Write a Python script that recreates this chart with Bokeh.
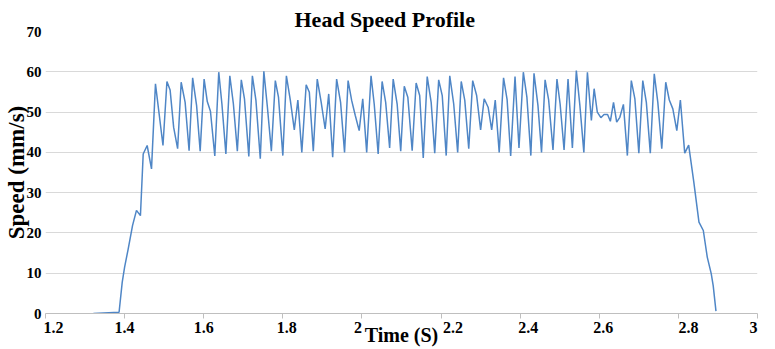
from bokeh.plotting import figure
from bokeh.models import Range1d, FixedTicker
from bokeh.embed import file_html
from bokeh.resources import INLINE

# ---- data ----
time_s = [
    1.321, 1.386, 1.394, 1.400, 1.409, 1.420, 1.430, 1.440, 1.447, 1.457,
    1.468, 1.478, 1.497, 1.507, 1.515, 1.524, 1.534, 1.543, 1.553, 1.563,
    1.572, 1.582, 1.591, 1.601, 1.609, 1.617, 1.628, 1.638, 1.646, 1.656,
    1.666, 1.675, 1.685, 1.695, 1.703, 1.714, 1.723, 1.732, 1.743, 1.752,
    1.761, 1.771, 1.781, 1.789, 1.800, 1.809, 1.819, 1.829, 1.838, 1.848,
    1.859, 1.867, 1.877, 1.887, 1.897, 1.907, 1.916, 1.926, 1.936, 1.946,
    1.956, 1.965, 1.974, 1.983, 1.993, 2.002, 2.012, 2.023, 2.031, 2.041,
    2.051, 2.060, 2.070, 2.079, 2.089, 2.098, 2.107, 2.116, 2.127, 2.137,
    2.146, 2.155, 2.165, 2.175, 2.184, 2.194, 2.203, 2.213, 2.222, 2.232,
    2.242, 2.251, 2.260, 2.270, 2.280, 2.290, 2.300, 2.309, 2.319, 2.328,
    2.337, 2.347, 2.358, 2.367, 2.376, 2.387, 2.397, 2.408, 2.417, 2.427,
    2.435, 2.445, 2.454, 2.463, 2.472, 2.483, 2.493, 2.501, 2.511, 2.521,
    2.532, 2.542, 2.551, 2.561, 2.570, 2.580, 2.587, 2.595, 2.604, 2.612,
    2.621, 2.628, 2.636, 2.644, 2.652, 2.661, 2.671, 2.681, 2.690, 2.700,
    2.710, 2.719, 2.729, 2.739, 2.748, 2.758, 2.768, 2.777, 2.786, 2.796,
    2.805, 2.816, 2.826, 2.839, 2.852, 2.863, 2.873, 2.883, 2.888, 2.895,
]
speed_mm_s = [
    0.0, 0.3, 7.8, 11.5, 16.0, 21.8, 25.6, 24.3, 39.6, 41.7,
    35.9, 57.0, 41.7, 57.6, 55.5, 46.2, 40.9, 57.4, 52.4, 40.4,
    58.5, 51.6, 40.3, 58.2, 52.6, 50.2, 39.1, 59.9, 52.0, 39.6,
    59.0, 52.0, 40.3, 58.0, 53.3, 39.0, 59.0, 52.9, 38.4, 60.1,
    51.2, 40.3, 57.8, 53.7, 39.2, 59.0, 52.9, 45.6, 53.0, 40.0,
    56.8, 54.9, 40.3, 58.2, 52.4, 45.8, 54.5, 38.8, 58.2, 52.4,
    40.0, 57.8, 52.9, 49.2, 45.4, 53.3, 40.0, 59.0, 52.0, 39.6,
    57.6, 52.4, 41.1, 58.2, 52.0, 40.3, 56.4, 53.7, 40.4, 57.2,
    54.1, 38.6, 58.8, 52.4, 39.8, 58.0, 54.1, 39.2, 59.0, 52.0,
    40.0, 57.6, 52.9, 40.9, 57.8, 54.1, 45.6, 53.3, 51.2, 45.6,
    53.0, 40.0, 58.5, 53.1, 39.1, 58.8, 41.1, 59.9, 53.7, 39.2,
    59.6, 51.6, 40.0, 58.0, 53.0, 40.6, 58.2, 52.0, 40.6, 58.2,
    41.1, 60.3, 51.6, 40.0, 59.9, 47.9, 55.8, 50.0, 48.6, 49.4,
    49.4, 47.7, 52.4, 47.5, 48.7, 51.9, 39.2, 57.8, 53.3, 39.8,
    57.8, 52.4, 39.8, 59.5, 52.4, 40.9, 57.4, 53.0, 50.8, 45.4,
    53.0, 39.8, 41.8, 32.6, 22.7, 20.6, 14.0, 9.9, 6.9, 0.6,
]

x_ticks = [1.2, 1.4, 1.6, 1.8, 2.0, 2.2, 2.4, 2.6, 2.8, 3.0]
x_tick_labels = ["1.2", "1.4", "1.6", "1.8", "2", "2.2", "2.4", "2.6", "2.8", "3"]
y_ticks = [0, 10, 20, 30, 40, 50, 60, 70]

TITLE = "Head Speed Profile"
X_LABEL = "Time (S)"
Y_LABEL = "Speed (mm/s)"

# the reference draws its tick labels slightly off-centre; no-break spaces
# reproduce those small shifts (number of pads before / after each label)
label_pads = [(4, 0), (0, 0), (0, 0), (2, 0), (0, 2), (6, 0), (4, 0), (2, 0), (5, 0), (0, 2)]
NBSP = "\u00a0"
shown_labels = [NBSP * a + t + NBSP * b for t, (a, b) in zip(x_tick_labels, label_pads)]

FONT = "'Liberation Serif'"

p = figure(width=775, height=349, output_backend="svg", toolbar_location=None,
           x_range=Range1d(1.2, 3.0), y_range=Range1d(0, 70),
           min_border_left=44, min_border_right=18,
           min_border_top=31, min_border_bottom=36)
p.outline_line_color = None
p.background_fill_color = "white"
p.border_fill_color = "white"

p.title.text = TITLE
p.title.align = "left"
p.title.offset = 249
p.title.standoff = 0
p.title.text_font = FONT
p.title.text_font_size = "22px"
p.title.text_font_style = "bold"
p.title.text_color = "black"

# y axis
ya = p.yaxis[0]
ya.ticker = FixedTicker(ticks=y_ticks)
ya.axis_line_color = None
ya.major_tick_line_color = None
ya.major_tick_out = 0
ya.major_tick_in = 0
ya.minor_tick_line_color = None
ya.minor_tick_out = 0
ya.minor_tick_in = 0
ya.major_label_standoff = 4
ya.major_label_text_font = FONT
ya.major_label_text_font_size = "15px"
ya.major_label_text_font_style = "bold"
ya.major_label_text_color = "black"
ya.axis_label = Y_LABEL
ya.axis_label_standoff = -5
ya.axis_label_text_font = FONT
ya.axis_label_text_font_size = "23px"
ya.axis_label_text_font_style = "bold"
ya.axis_label_text_color = "black"

# x axis
xa = p.xaxis[0]
xa.ticker = FixedTicker(ticks=x_ticks)
xa.major_label_overrides = dict(zip(x_ticks, shown_labels))
xa.axis_line_color = "#bfbfbf"
xa.major_tick_line_color = "#bfbfbf"
xa.major_tick_out = 5
xa.major_tick_in = 0
xa.minor_tick_line_color = None
xa.major_label_standoff = 0
xa.major_label_text_font = FONT
xa.major_label_text_font_size = "16px"
xa.major_label_text_font_style = "bold"
xa.major_label_text_color = "black"
xa.axis_label = X_LABEL
xa.axis_label_standoff = -15
xa.axis_label_text_font = FONT
xa.axis_label_text_font_size = "20px"
xa.axis_label_text_font_style = "bold"
xa.axis_label_text_color = "black"

p.xgrid.visible = False
p.ygrid.grid_line_color = "#d9d9d9"
p.ygrid.grid_line_width = 1

p.line(time_s, speed_mm_s, line_color="#4f86c6", line_width=1.5)

open("out.html", "w").write(file_html(p, INLINE))
